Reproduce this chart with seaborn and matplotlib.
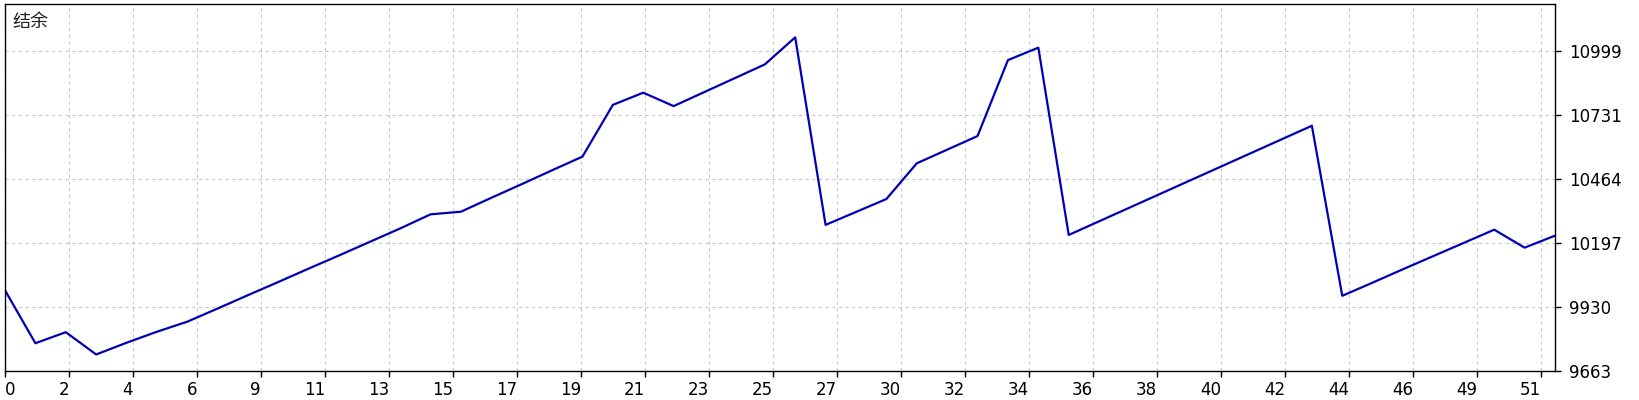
import numpy as np
import pandas as pd
import matplotlib

matplotlib.use("Agg")
import matplotlib.pyplot as plt
import seaborn as sns

# 余额曲线数据 (按交易序号)
trade_no = list(range(52))
balance = [
    10000, 9779, 9825, 9732, 9781, 9827, 9869, 9924, 9980, 10035,
    10091, 10146, 10202, 10258, 10317, 10328, 10386, 10443, 10501, 10558,
    10774, 10825, 10769, 10827, 10885, 10943, 11056, 10273, 10327, 10381,
    10530, 10587, 10644, 10961, 11013, 10231, 10288, 10345, 10402, 10459,
    10516, 10573, 10630, 10687, 9977, 10032, 10088, 10143, 10198, 10253,
    10178, 10228,
]
x_labels = ["0", "2", "4", "6", "9", "11", "13", "15", "17", "19", "21", "23",
            "25", "27", "30", "32", "34", "36", "38", "40", "42", "44", "46",
            "49", "51"]
y_ticks = [9663, 9930, 10197, 10464, 10731, 10999]
title_text = "结余"

df = pd.DataFrame({"trade": trade_no, "balance": balance})

sns.set_style("white")
plt.rcParams["font.family"] = ["DejaVu Sans"]

fig = plt.figure(figsize=(16.4, 4.0), dpi=100)
ax = fig.add_axes([5 / 1640, 29 / 400, 1550 / 1640, 366.7 / 400])

sns.lineplot(data=df, x="trade", y="balance", ax=ax, color="#0000B4",
             linewidth=1.6, estimator=None)

ax.set_xlim(0, 51)
ax.set_ylim(9663, 11194)

# 网格间距 64 像素
step = 64 / 1550 * 51
ax.set_xticks([k * step for k in range(len(x_labels))])
ax.set_xticklabels(x_labels)
for i, lab in enumerate(ax.get_xticklabels()):
    lab.set_ha("left" if i == 0 else "right")

ax.yaxis.tick_right()
ax.set_yticks(y_ticks)
ax.set_yticklabels([str(v) for v in y_ticks])

ax.tick_params(axis="x", direction="out", length=4, width=1, pad=3,
               labelsize=12, colors="black", bottom=True)
ax.tick_params(axis="y", direction="out", length=4, width=1, pad=6,
               labelsize=12, colors="black", right=True, left=False)

ax.grid(True, color="#c8c8c8", linestyle=(0, (3, 3)), linewidth=0.8)
for s in ax.spines.values():
    s.set_visible(True)
    s.set_color("black")
    s.set_linewidth(1.0)

ax.set_xlabel("")
ax.set_ylabel("")
ax.text(0.005, 0.975, title_text, transform=ax.transAxes, ha="left", va="top",
        fontsize=13, color="#202020", family=["Noto Sans CJK SC", "DejaVu Sans"])

fig.savefig("out.png", dpi=100)
